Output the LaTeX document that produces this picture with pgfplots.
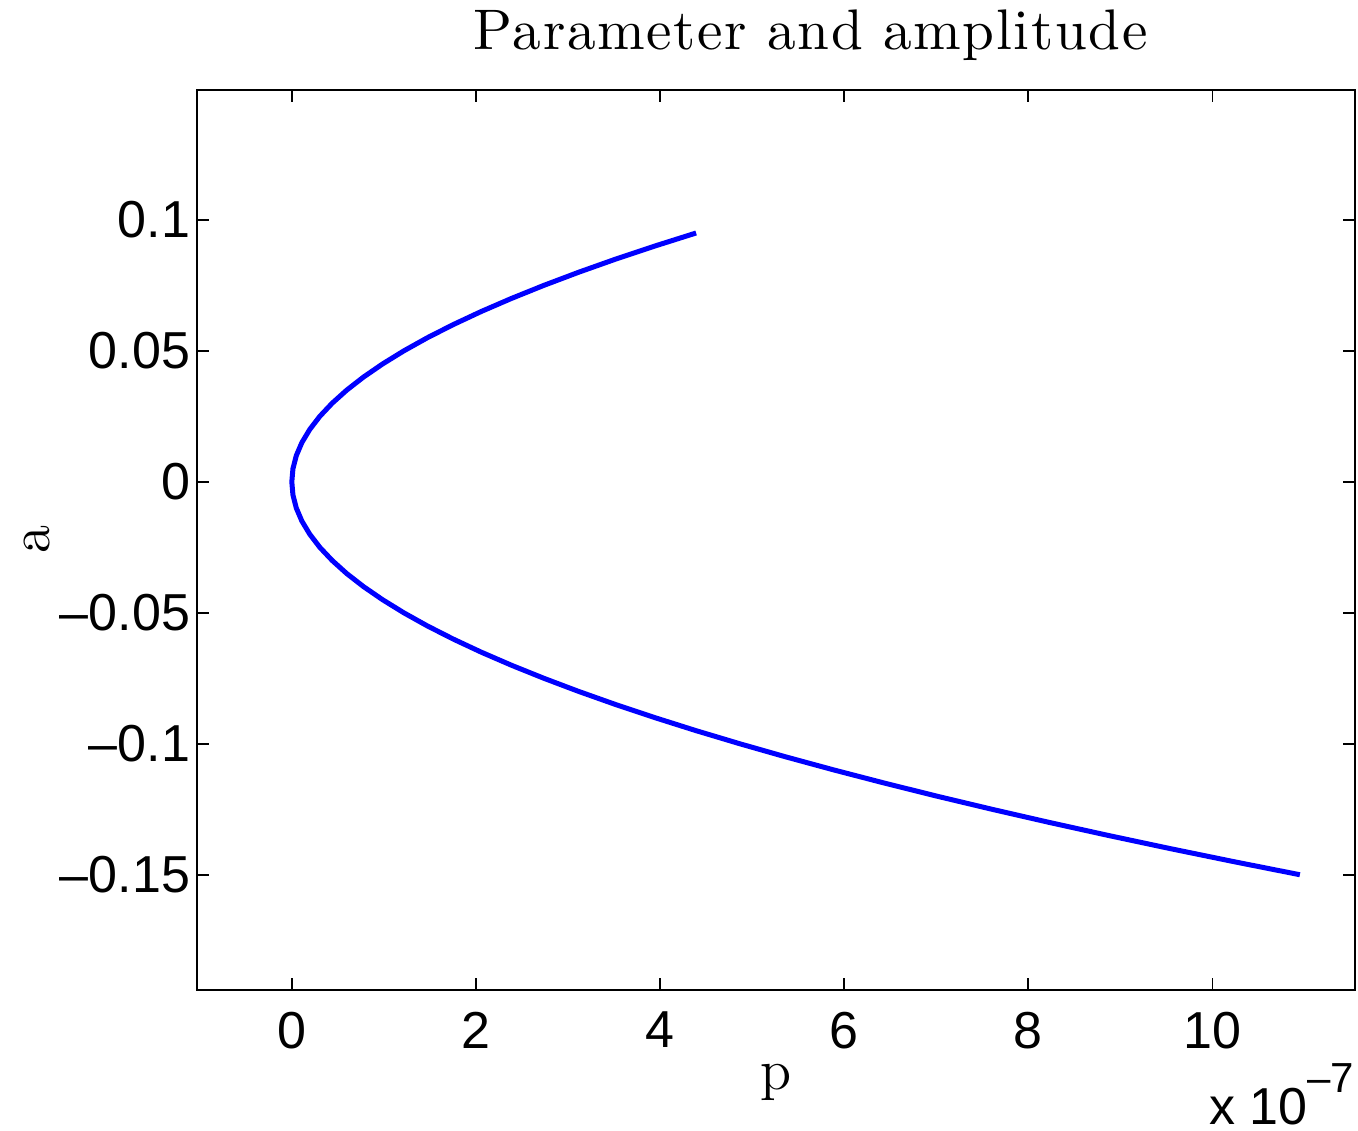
\documentclass[border=0pt]{standalone}
\usepackage{fontspec}
\usepackage{pgfplots}
\pgfplotsset{compat=1.18}
\newfontfamily\hel{Liberation Sans}
\newfontfamily\titlefont{lmroman10-regular}[Extension=.otf, LetterSpace=2.8]
\begin{document}
\begin{tikzpicture}
\useasboundingbox (-49.25pt,-35.25pt) rectangle (290.25pt,247.5pt);
\begin{axis}[
  scale only axis,
  width=289.5pt, height=225pt,
  xmin=-1.03, xmax=11.55,
  ymin=-0.194, ymax=0.1496,
  xtick={0,2,4,6,8,10},
  xticklabels={0,2,4,6,8,10},
  ytick={-0.15,-0.1,-0.05,0,0.05,0.1},
  yticklabels={–0.15,–0.1,–0.05,0,0.05,0.1},
  tick align=inside,
  major tick length=3pt,
  tick style={black, line width=0.4pt},
  axis line style={black, line width=0.5pt},
  ticklabel style={font=\hel\fontsize{13}{15}\selectfont},
  xticklabel style={yshift=-2pt},
  yticklabel style={xshift=1.8pt},
  title={Parameter and amplitude},
  title style={font=\titlefont\fontsize{14.3}{16}\selectfont, at={(rel axis cs:0.53,1)}, anchor=base, yshift=4pt},
  xlabel={p},
  ylabel={a},
  xlabel style={font=\fontsize{14.3}{16}\selectfont, yshift=3pt},
  ylabel style={font=\fontsize{14.3}{16}\selectfont, yshift=-4.5pt},
  clip=false,
]
\addplot[blue, line width=1.25pt] coordinates {
(10.951,-0.150) (10.233,-0.145) (9.539,-0.140) (8.870,-0.135) (8.225,-0.130)
(7.605,-0.125) (7.008,-0.120) (6.437,-0.115) (5.889,-0.110) (5.366,-0.105)
(4.867,-0.100) (4.392,-0.095) (3.942,-0.090) (3.516,-0.085) (3.115,-0.080)
(2.738,-0.075) (2.385,-0.070) (2.056,-0.065) (1.752,-0.060) (1.472,-0.055)
(1.217,-0.050) (0.986,-0.045) (0.779,-0.040) (0.596,-0.035) (0.438,-0.030)
(0.304,-0.025) (0.195,-0.020) (0.1095,-0.015) (0.0487,-0.010) (0.0122,-0.005)
(0,0)
(0.0122,0.005) (0.0487,0.010) (0.1095,0.015) (0.195,0.020) (0.304,0.025)
(0.438,0.030) (0.596,0.035) (0.779,0.040) (0.986,0.045) (1.217,0.050)
(1.472,0.055) (1.752,0.060) (2.056,0.065) (2.385,0.070) (2.738,0.075)
(3.115,0.080) (3.516,0.085) (3.942,0.090) (4.392,0.095)
};
\node[anchor=base east, font=\hel\fontsize{13}{14}\selectfont, inner sep=0pt] at (rel axis cs:1,0) [yshift=-33.75pt] {x 10\raisebox{8pt}{\fontsize{10.5}{12}\selectfont –7}};
\end{axis}
\end{tikzpicture}
\end{document}
